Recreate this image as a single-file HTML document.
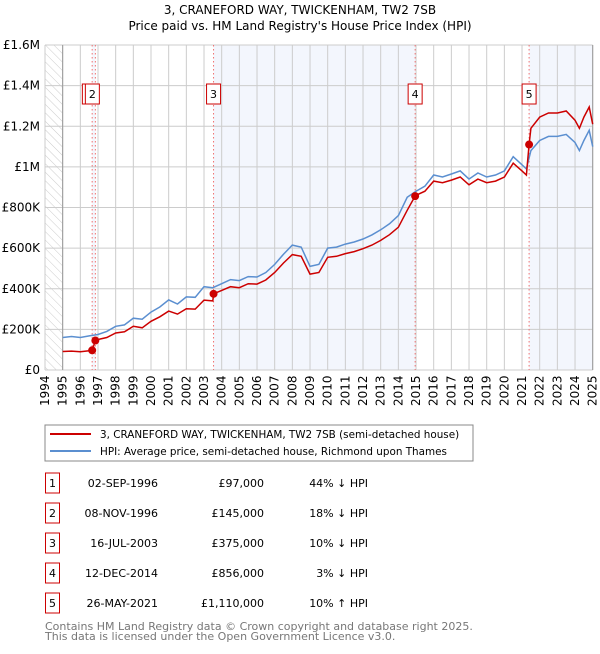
<!DOCTYPE html>
<html><head><meta charset="utf-8"><style>
body{margin:0;background:#fff;font-family:"DejaVu Sans","Liberation Sans",sans-serif;}
svg text{font-family:"DejaVu Sans","Liberation Sans",sans-serif;}
</style></head><body>
<svg id="c" width="600" height="650" xmlns="http://www.w3.org/2000/svg">
<defs><pattern id="hatch" width="6" height="6" patternUnits="userSpaceOnUse" patternTransform="rotate(-45)"><line x1="0" y1="0" x2="0" y2="6" stroke="#ccc" stroke-width="1"/></pattern></defs>
<text x="300" y="14" text-anchor="middle" font-size="12">3, CRANEFORD WAY, TWICKENHAM, TW2 7SB</text>
<text x="300" y="30" text-anchor="middle" font-size="12">Price paid vs. HM Land Registry's House Price Index (HPI)</text>
<g id="plot"></g>
<rect x="45" y="425" width="428" height="36" fill="#fff" stroke="#888"/>
<line x1="50" y1="434" x2="91" y2="434" stroke="#cc0000" stroke-width="2"/>
<text x="100" y="438" font-size="10.4">3, CRANEFORD WAY, TWICKENHAM, TW2 7SB (semi-detached house)</text>
<line x1="50" y1="451" x2="91" y2="451" stroke="#5b8fd0" stroke-width="2"/>
<text x="100" y="455" font-size="10.4">HPI: Average price, semi-detached house, Richmond upon Thames</text>
<g id="table"></g>
<text x="45" y="630" font-size="11" fill="#777">Contains HM Land Registry data © Crown copyright and database right 2025.</text>
<text x="45" y="640" font-size="11" fill="#777">This data is licensed under the Open Government Licence v3.0.</text>
</svg>
<script>
const hpiDates=[1995,1995.5,1996,1996.5,1997,1997.5,1998,1998.5,1999,1999.5,2000,2000.5,2001,2001.5,2002,2002.5,2003,2003.5,2004,2004.5,2005,2005.5,2006,2006.5,2007,2007.5,2008,2008.5,2009,2009.5,2010,2010.5,2011,2011.5,2012,2012.5,2013,2013.5,2014,2014.5,2015,2015.5,2016,2016.5,2017,2017.5,2018,2018.5,2019,2019.5,2020,2020.5,2021,2021.25,2021.5,2022,2022.5,2023,2023.5,2024,2024.25,2024.5,2024.8,2025];
const hpiValues=[160,165,160,168,175,190,215,222,255,250,285,310,345,325,360,358,410,405,425,445,440,460,458,480,520,570,615,605,510,520,600,605,620,630,645,665,690,720,760,850,880,905,960,950,965,980,940,970,950,960,980,1050,1010,990,1080,1130,1150,1150,1160,1120,1080,1130,1180,1100];
const priceDates=[1995,1995.5,1996,1996.5,1996.67,1996.85,1997,1997.5,1998,1998.5,1999,1999.5,2000,2000.5,2001,2001.5,2002,2002.5,2003,2003.5,2003.54,2004,2004.5,2005,2005.5,2006,2006.5,2007,2007.5,2008,2008.5,2009,2009.5,2010,2010.5,2011,2011.5,2012,2012.5,2013,2013.5,2014,2014.5,2014.95,2015,2015.5,2016,2016.5,2017,2017.5,2018,2018.5,2019,2019.5,2020,2020.5,2021,2021.25,2021.4,2021.5,2022,2022.5,2023,2023.5,2024,2024.25,2024.5,2024.8,2025];
const priceValues=[91,93,90,95,97,145,150,160,182,188,215,208,240,262,290,275,302,300,344,340,375,392,410,405,425,423,443,480,527,568,560,472,480,555,560,573,583,597,615,638,666,703,786,856,860,880,930,922,935,950,912,940,922,930,950,1018,980,960,1110,1190,1245,1265,1265,1275,1230,1190,1245,1295,1210];
const saleLabels=["1","2","3","4","5"];
const saleDates=[1996.67,1996.85,2003.54,2014.95,2021.4];
const salePrices=[97,145,375,856,1110];
const saleDateText=["02-SEP-1996","08-NOV-1996","16-JUL-2003","12-DEC-2014","26-MAY-2021"];
const salePriceText=["£97,000","£145,000","£375,000","£856,000","£1,110,000"];
const saleHpiText=["44% ↓ HPI","18% ↓ HPI","10% ↓ HPI","3% ↓ HPI","10% ↑ HPI"];
const yTicks=[0,200,400,600,800,1000,1200,1400,1600];
const yTickLabels=["£0","£200K","£400K","£600K","£800K","£1M","£1.2M","£1.4M","£1.6M"];
const NS="http://www.w3.org/2000/svg";
const X0=45,X1=592.7,Y0=370,Y1=45;
const x=t=>X0+(t-1994)/31*(X1-X0);
const y=v=>Y0-v/1600*(Y0-Y1);
const g=document.getElementById('plot');
function mk(tag,at,parent){const e=document.createElementNS(NS,tag);for(const k in at)e.setAttribute(k,at[k]);(parent||g).appendChild(e);return e;}
[[0,1],[2,3]].forEach(p=>{const r=mk('rect',{x:x(saleDates[p[0]]),y:Y1,width:x(saleDates[p[1]])-x(saleDates[p[0]]),height:Y0-Y1,fill:'#eef2fc',opacity:0.7});

});
{const r=mk('rect',{x:x(saleDates[4]),y:Y1,width:X1-x(saleDates[4]),height:Y0-Y1,fill:'#eef2fc',opacity:0.7});

}
{const r=mk('rect',{x:X0,y:Y1,width:x(1995)-X0,height:Y0-Y1,fill:'url(#hatch)'});

}
for(let yr=1994;yr<=2025;yr++){mk('line',{x1:x(yr),x2:x(yr),y1:Y1,y2:Y0,stroke:'#ccc','stroke-width':1});
const t=mk('text',{x:0,y:0,'font-size':12,transform:`translate(${x(yr)+4},${Y0+36}) rotate(-90)`});t.textContent=yr;

}
yTicks.forEach((v,i)=>{mk('line',{x1:X0,x2:X1,y1:y(v),y2:y(v),stroke:'#ccc','stroke-width':1});
const t=mk('text',{x:X0-5,y:y(v)+4,'font-size':12,'text-anchor':'end'});t.textContent=yTickLabels[i];

});
mk('line',{x1:x(1995),x2:x(1995),y1:Y1,y2:Y0,stroke:'#999'});
mk('line',{x1:X1,x2:X1,y1:Y1,y2:Y0,stroke:'#999'});
saleDates.forEach(d=>mk('line',{x1:x(d),x2:x(d),y1:Y1,y2:Y0,stroke:'#f07070','stroke-width':1,'stroke-dasharray':'1.5,2.5'}));
const pl=(ds,vs)=>ds.map((d,i)=>x(d).toFixed(1)+','+y(vs[i]).toFixed(1)).join(' ');
{const l=mk('polyline',{points:pl(hpiDates,hpiValues),fill:'none',stroke:'#5b8fd0','stroke-width':1.5});

}
{const l=mk('polyline',{points:pl(priceDates,priceValues),fill:'none',stroke:'#cc0000','stroke-width':1.5});

}
saleDates.forEach((d,i)=>{const c=mk('circle',{cx:x(d),cy:y(salePrices[i]),r:4,fill:'#cc0000'});


const bx=i==0?x(saleDates[1])-13:(i==1?x(d)-10:x(d)-7);
const r=mk('rect',{x:bx,y:84,width:14,height:20,fill:'#fff',stroke:'#cc0000'});


const t=mk('text',{x:bx+7,y:98,'font-size':11,'text-anchor':'middle'});t.textContent=saleLabels[i];});
const tb=document.getElementById('table');
saleLabels.forEach((s,i)=>{const cy=483+i*30;
const r=mk('rect',{x:45.5,y:cy-10,width:14,height:20,fill:'#fff',stroke:'#cc0000'},tb);


const a=mk('text',{x:52.5,y:cy+4,'font-size':11,'text-anchor':'middle'},tb);a.textContent=s;
const b=mk('text',{x:158,y:cy+4,'font-size':11,'text-anchor':'end'},tb);b.textContent=saleDateText[i];


const c=mk('text',{x:264,y:cy+4,'font-size':11,'text-anchor':'end'},tb);c.textContent=salePriceText[i];


const d=mk('text',{x:368,y:cy+4,'font-size':11,'text-anchor':'end'},tb);d.textContent=saleHpiText[i];

});
</script>
</body></html>
